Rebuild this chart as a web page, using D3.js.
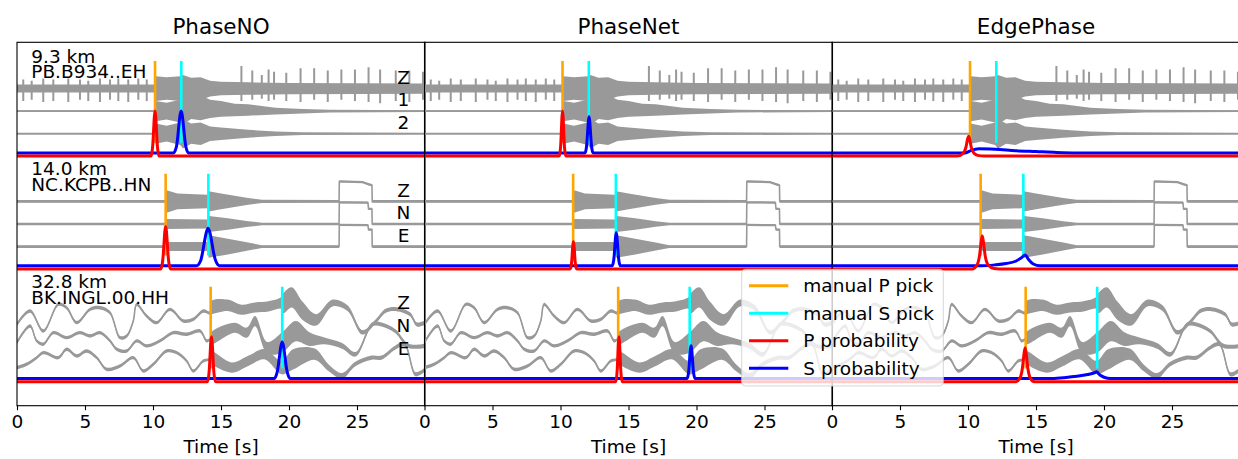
<!DOCTYPE html>
<html lang="en">
<head>
<meta charset="UTF-8" />
<script src="https://d3js.org/d3.v7.min.js"></script>
<title>Picks</title>
<style>
  body { margin: 0; background: #fff; }
  svg { font-family: "DejaVu Sans", sans-serif; }
</style>
</head>
<body>
<svg id="chart" width="1238" height="459"></svg>
<script>
const models = ["PhaseNO", "PhaseNet", "EdgePhase"];
const stationNames = ["PB.B934..EH", "NC.KCPB..HN", "BK.INGL.00.HH"];
const distances = ["9.3 km", "14.0 km", "32.8 km"];
const channelNames = [["Z", "1", "2"], ["Z", "N", "E"], ["Z", "N", "E"]];
const pPicks = [10.15, 10.93, 14.24];
const sPicks = [12.08, 14.07, 19.5];
const timeTicks = [0, 5, 10, 15, 20, 25];
const legendLabels = ["manual P pick", "manual S pick", "P probability", "S probability"];

// waveforms: [time s, centre, half width of the trace]
const b934Z = [[0,0,0.35],[10.1,0,0.35],[10.2,0,1.1],[11.0,0,1.0],[12.0,0,1.1],[12.2,0,1.2],[12.8,0,0.95],[13.5,0,1.0],[14.2,0,0.7],[15,0,0.6],[17,0,0.55],[20,0,0.5],[30,0,0.45]];
const b934H1 = [[0,0,0.08],[10.1,0,0.08],[10.2,0,0.9],[11.0,0,0.75],[12.0,0,1.0],[12.2,0.2,1.4],[12.8,0.3,1.0],[13.5,0.3,1.1],[14.2,0.2,0.8],[15,0.2,0.7],[16,0.1,0.55],[17,0.1,0.5],[19,0,0.3],[21,0,0.2],[23,0,0.12],[30,0,0.08]];
const b934H2 = [[0,0,0.08],[10.1,0,0.08],[10.2,0,0.9],[11.0,0,0.7],[12.0,0,1.0],[12.2,0,1.3],[12.8,0,0.9],[13.5,0,1.0],[14.2,0,0.65],[15,0,0.55],[17,0,0.35],[19,0,0.2],[21,0,0.12],[30,0,0.08]];
// spikes on B934 Z: [time, up, down]
const b934Spikes = [[0.46,0.8,1.1],[1.08,0.7,1.0],[1.93,0.9,1.2],[2.67,0.8,1.1],[3.77,0.9,1.2],[4.63,0.8,1.0],[5.24,0.7,1.1],[6.1,0.9,1.2],[6.84,0.8,1.0],[7.45,0.9,1.1],[8.18,0.8,1.2],[8.92,0.9,1.0],[9.54,0.8,1.1],
  [16.5,2.0,1.1],[17.3,1.6,1.0],[18.0,1.2,0.9],[18.5,1.7,1.1],[18.9,1.5,1.0],[19.8,1.4,1.1],[20.85,1.8,1.2],[21.85,1.8,1.0],[22.85,1.6,1.2],[23.85,1.7,1.0],[24.85,1.7,1.1],[25.85,1.9,1.2],[26.7,1.7,1.3],[27.85,1.6,1.1],[28.85,1.6,1.2],[29.85,1.5,1.0]];

const kcpbZ = [[0,0,0.12],[10.9,0,0.12],[11.0,0,1.0],[11.8,0,0.7],[14.0,0,0.6],[14.1,0,0.9],[15.0,0,0.7],[16,0,0.5],[17,0,0.3],[18,0,0.15],[23.68,0,0.12],[23.7,1.77,0.1],[25.4,1.72,0.1],[25.9,1.5,0.1],[26.1,1.45,0.1],[26.12,0,0.12],[30,0,0.12]];
const kcpbN = [[0,0,0.12],[10.9,0,0.12],[11.0,0,0.45],[14.0,0,0.4],[14.1,0,0.7],[15.5,0,0.5],[17,0,0.25],[18,0,0.12],[23.68,0,0.12],[23.7,1.92,0.1],[25.8,1.9,0.1],[25.85,1.33,0.1],[26.1,1.33,0.1],[26.12,0,0.12],[30,0,0.12]];
const kcpbE = [[0,0,0.12],[10.9,0,0.12],[11.0,0,0.4],[14.0,0,0.4],[14.1,0,1.0],[15.5,0,0.7],[17,0,0.35],[18,0,0.12],[23.68,0,0.12],[23.7,1.92,0.1],[25.8,1.9,0.1],[25.85,1.5,0.1],[26.1,1.5,0.1],[26.12,0,0.12],[30,0,0.12]];

const inglZ = [[0,-0.88,0.15],[0.96,0.29,0.15],[1.94,-1.48,0.15],[3.04,0.88,0.15],[3.65,0.58,0.15],[4.39,-0.74,0.15],[5.37,0.44,0.15],[6.1,0.58,0.15],[6.84,0.14,0.15],[7.57,-2.07,0.15],[8.07,-1.92,0.15],[8.55,-0.59,0.15],[8.8,0.88,0.15],[9.53,-0.15,0.15],[10.27,-0.74,0.15],[11.25,0.44,0.15],[12.23,-0.59,0.15],[12.97,-0.44,0.15],[13.7,0.29,0.15],[14.2,0.1,0.15],
  [14.3,0.6,0.6],[15.5,0.8,0.5],[16.5,0.4,0.45],[17.5,0.6,0.45],[18.5,0.7,0.45],[19.4,1.0,0.5],[19.6,1.0,0.9],[20.2,1.5,0.9],[21,0.3,0.8],[22,-0.5,0.5],[23.2,1.0,0.3],[24.3,0.55,0.25],[25.4,-1.6,0.2],[26.4,-0.6,0.18],[27.1,0.3,0.18],[27.9,0.45,0.18],[28.9,0,0.18],[29.4,-0.9,0.18],[30,-0.74,0.18]];
const inglN = [[0,-0.5,0.15],[0.96,0.96,0.15],[1.45,-0.36,0.15],[1.94,-0.65,0.15],[2.67,0.37,0.15],[3.65,-0.07,0.15],[4.63,0.37,0.15],[5.37,0.08,0.15],[6.1,0.37,0.15],[6.84,-0.36,0.15],[7.33,-1.1,0.15],[8.07,-1.25,0.15],[8.8,-0.36,0.15],[9.53,-0.8,0.15],[10.51,-0.36,0.15],[11.5,0.37,0.15],[12.47,0.23,0.15],[13.46,0.52,0.15],[13.95,-0.36,0.15],[14.2,-0.2,0.15],
  [14.3,-0.1,0.55],[16.0,0.81,0.45],[16.9,0.37,0.45],[17.5,1.4,0.45],[18.4,-0.96,0.5],[19.5,-0.5,0.9],[20.5,0.5,0.9],[21.5,-0.2,0.6],[22.6,-0.36,0.3],[23.9,-0.8,0.25],[24.9,-1.54,0.2],[26.1,1.1,0.18],[26.8,1.1,0.18],[27.8,0.52,0.18],[28.8,-0.8,0.18],[30,-0.8,0.18]];
const inglE = [[0,-0.72,0.15],[0.71,-0.43,0.15],[1.45,0.16,0.15],[1.94,0.6,0.15],[3.04,0.16,0.15],[3.65,0.9,0.15],[4.39,0.31,0.15],[5.12,0.75,0.15],[5.86,0.16,0.15],[6.59,-0.87,0.15],[7.57,-0.58,0.15],[8.55,0.16,0.15],[9.28,-1.02,0.15],[10.02,-0.43,0.15],[11.0,0.75,0.15],[11.74,0.6,0.15],[12.47,-0.13,0.15],[12.97,-1.02,0.15],[13.7,-0.13,0.15],[14.2,0,0.15],
  [14.3,0.16,0.55],[15.78,-0.72,0.45],[17.0,-0.13,0.45],[18.2,0.46,0.45],[19.46,-0.72,0.6],[20.3,0,0.9],[21.9,0.46,0.5],[22.9,-0.72,0.3],[23.9,-1.46,0.25],[24.85,-0.43,0.2],[26.07,0.16,0.18],[26.8,0.16,0.18],[27.8,1.04,0.18],[28.5,1.35,0.18],[29.3,-1.31,0.18],[30,-0.9,0.18]];

const waveforms = [[b934Z, b934H1, b934H2], [kcpbZ, kcpbN, kcpbE], [inglZ, inglN, inglE]];

// probability curves [time, prob], one list per station
const phasenoP = [
  [[0,0],[9.85,0],[9.95,0.14],[10.0,0.32],[10.05,0.61],[10.1,0.88],[10.15,1.0],[10.2,0.88],[10.25,0.61],[10.3,0.32],[10.35,0.14],[10.45,0],[30,0]],
  [[0,0],[10.57,0],[10.69,0.13],[10.75,0.3],[10.81,0.57],[10.87,0.83],[10.93,0.94],[10.99,0.83],[11.05,0.57],[11.11,0.3],[11.17,0.13],[11.29,0],[30,0]],
  [[0,0],[14.0,0],[14.1,0.14],[14.15,0.32],[14.2,0.61],[14.25,0.88],[14.3,1.0],[14.35,0.88],[14.4,0.61],[14.45,0.32],[14.5,0.14],[14.6,0],[30,0]]];
const phasenoS = [
  [[0,0],[11.5,0],[11.71,0.12],[11.8,0.3],[11.89,0.57],[11.98,0.82],[12.07,0.93],[12.16,0.82],[12.25,0.57],[12.34,0.3],[12.43,0.12],[12.62,0],[30,0]],
  [[0,0],[13.2,0],[13.5,0.11],[13.63,0.27],[13.77,0.51],[13.91,0.73],[14.05,0.83],[14.19,0.73],[14.33,0.51],[14.47,0.27],[14.61,0.11],[14.9,0],[30,0]],
  [[0,0],[18.9,0],[19.1,0.11],[19.2,0.26],[19.3,0.49],[19.4,0.71],[19.5,0.81],[19.6,0.71],[19.7,0.49],[19.8,0.26],[19.9,0.11],[20.1,0],[30,0]]];
const phasenetP = [
  [[0,0],[9.91,0],[9.99,0.14],[10.03,0.32],[10.07,0.61],[10.11,0.88],[10.15,1.0],[10.19,0.88],[10.23,0.61],[10.27,0.32],[10.31,0.14],[10.39,0],[30,0]],
  [[0,0],[10.71,0],[10.79,0.08],[10.83,0.19],[10.87,0.37],[10.91,0.53],[10.95,0.6],[10.99,0.53],[11.03,0.37],[11.07,0.19],[11.11,0.08],[11.19,0],[30,0]],
  [[0,0],[14.06,0],[14.14,0.14],[14.18,0.32],[14.22,0.61],[14.26,0.88],[14.3,1.0],[14.34,0.88],[14.38,0.61],[14.42,0.32],[14.46,0.14],[14.54,0],[30,0]]];
const phasenetS = [
  [[0,0],[11.8,0],[11.9,0.11],[11.95,0.26],[12.0,0.49],[12.05,0.7],[12.1,0.8],[12.15,0.7],[12.2,0.49],[12.25,0.26],[12.3,0.11],[12.4,0],[30,0]],
  [[0,0],[13.8,0],[13.9,0.1],[13.95,0.23],[14.0,0.45],[14.05,0.64],[14.1,0.73],[14.15,0.64],[14.2,0.45],[14.25,0.23],[14.3,0.1],[14.4,0],[30,0]],
  [[0,0],[19.3,0],[19.4,0.1],[19.45,0.23],[19.5,0.45],[19.55,0.64],[19.6,0.73],[19.65,0.64],[19.7,0.45],[19.75,0.23],[19.8,0.1],[19.9,0],[30,0]]];
const edgeP = [
  [[0,0],[9.2,0],[9.6,0.05],[9.85,0.2],[9.97,0.38],[10.05,0.44],[10.13,0.36],[10.25,0.18],[10.45,0.06],[10.8,0.01],[11.2,0],[30,0]],
  [[0,0],[10.3,0],[10.65,0.08],[10.85,0.3],[10.97,0.6],[11.05,0.73],[11.13,0.6],[11.27,0.28],[11.5,0.08],[11.9,0.01],[12.3,0],[30,0]],
  [[0,0],[13.5,0],[13.8,0.07],[14.0,0.3],[14.12,0.62],[14.2,0.75],[14.28,0.62],[14.4,0.3],[14.6,0.07],[14.9,0],[30,0]]];
const edgeS = [
  [[0,0],[9.8,0],[10.2,0.05],[10.8,0.09],[12.0,0.08],[13.5,0.05],[15.0,0.03],[16.5,0.01],[18.0,0],[30,0]],
  [[0,0],[11.0,0],[12.0,0.02],[12.8,0.05],[13.5,0.1],[13.9,0.17],[14.2,0.24],[14.45,0.14],[14.8,0.04],[15.3,0],[30,0]],
  [[0,0],[16.0,0],[17.0,0.02],[18.0,0.05],[18.8,0.09],[19.3,0.13],[19.45,0.15],[19.7,0.08],[20.0,0.03],[20.5,0],[30,0]]];
const probP = [phasenoP, phasenetP, edgeP];
const probS = [phasenoS, phasenetS, edgeS];

const svg = d3.select("#chart");
const panelLeft = [17, 424.5, 832];
const panelW = 408;
const plotTop = 42.3, plotBottom = 405.7;
const gray = "#999999";

// station k sits at k on this scale (downwards)
const y = d3.scaleLinear().domain([-1, 2.22]).range([plotTop, plotBottom]);
const chanY = (k, c, w) => y(k - 0.59 + 0.2 * c - 0.1 * w);
const probY = (k, p, isS) => y(k + (isS ? -0.02 : 0.008) - 0.4 * p);

const defs = svg.append("defs");

models.forEach((model, m) => {
  const x = d3.scaleLinear().domain([0, 30]).range([panelLeft[m], panelLeft[m] + panelW]);

  defs.append("clipPath").attr("id", "clip" + m)
    .append("rect")
    .attr("x", x(0)).attr("y", plotTop)
    .attr("width", panelW).attr("height", plotBottom - plotTop);

  const g = svg.append("g").attr("clip-path", `url(#clip${m})`);

  waveforms.forEach((chans, k) => {
    const curve = k === 2 ? d3.curveCatmullRom : d3.curveLinear;
    chans.forEach((trace, c) => {
      const area = d3.area()
        .x(d => x(d[0]))
        .y0(d => chanY(k, c, d[1] - d[2]))
        .y1(d => chanY(k, c, d[1] + d[2]))
        .curve(curve);
      const line = d3.line()
        .x(d => x(d[0]))
        .y(d => chanY(k, c, d[1]))
        .curve(curve);
      g.append("path").attr("d", area(trace)).attr("fill", gray);
      g.append("path").attr("d", line(trace))
        .attr("fill", "none").attr("stroke", gray).attr("stroke-width", 1.6);
    });
  });

  // spikes on the B934 vertical
  g.selectAll("line.spike")
    .data(b934Spikes)
    .join("line")
    .attr("class", "spike")
    .attr("x1", d => x(d[0])).attr("x2", d => x(d[0]))
    .attr("y1", d => chanY(0, 0, d[1])).attr("y2", d => chanY(0, 0, -d[2]))
    .attr("stroke", gray).attr("stroke-width", 2);

  // manual picks
  [[pPicks, "orange"], [sPicks, "cyan"]].forEach(([picks, col]) => {
    g.selectAll(null)
      .data(picks)
      .join("line")
      .attr("x1", d => x(d)).attr("x2", d => x(d))
      .attr("y1", (d, k) => y(k - 0.835)).attr("y2", (d, k) => y(k - 0.11))
      .attr("stroke", col).attr("stroke-width", 2.6);
  });

  // probabilities: blue under red
  [[probS[m], "blue", true], [probP[m], "red", false]].forEach(([curves, col, isS]) => {
    curves.forEach((pts, k) => {
      const line = d3.line()
        .x(d => x(d[0]))
        .y(d => probY(k, d[1], isS))
        .curve(d3.curveMonotoneX);
      g.append("path").attr("d", line(pts))
        .attr("fill", "none").attr("stroke", col).attr("stroke-width", 3);
    });
  });

  // frame
  svg.append("rect")
    .attr("x", x(0)).attr("y", plotTop)
    .attr("width", panelW).attr("height", plotBottom - plotTop)
    .attr("fill", "none").attr("stroke", "#000").attr("stroke-width", 1.1);

  const axis = d3.axisBottom(x).tickValues(timeTicks).tickSize(4.5).tickPadding(5).tickFormat(d3.format("d"));
  const ax = svg.append("g").attr("transform", `translate(0,${plotBottom})`).call(axis);
  ax.select(".domain").remove();
  ax.selectAll("text").attr("font-size", "18.5px").attr("font-family", "DejaVu Sans").attr("fill", "#000");
  ax.selectAll("line").attr("stroke", "#000").attr("stroke-width", 1.1);

  svg.append("text")
    .attr("x", x(15)).attr("y", 453.3)
    .attr("text-anchor", "middle").attr("font-size", "18.5px")
    .text("Time [s]");

  svg.append("text")
    .attr("x", x(15)).attr("y", 34)
    .attr("text-anchor", "middle").attr("font-size", "21.5px")
    .text(model);

  if (m === 0) {
    distances.forEach((dist, k) => {
      // one two-line label per station
      const lab = svg.append("text").attr("font-size", "18.5px");
      lab.append("tspan").attr("x", x(1.05)).attr("y", y(k - 0.82)).text(dist);
      lab.append("tspan").attr("x", x(1.05)).attr("y", y(k - 0.685)).text(stationNames[k]);
      channelNames[k].forEach((ch, c) => {
        svg.append("text").attr("x", x(28.42)).attr("y", y(k - 0.633 + 0.2 * c))
          .attr("text-anchor", "middle").attr("font-size", "18.5px").text(ch);
      });
    });
  }
});

// legend on top of everything
const legend = svg.append("g");
legend.append("rect")
  .attr("x", 741.7).attr("y", 269.3).attr("width", 201.6).attr("height", 116.7)
  .attr("rx", 4).attr("fill", "#fff").attr("fill-opacity", 0.8)
  .attr("stroke", "#cccccc").attr("stroke-opacity", 0.8);
const legendColors = ["orange", "cyan", "red", "blue"];
legendLabels.forEach((lab, i) => {
  const ly = 285.7 + i * 27.55;
  legend.append("line").attr("x1", 749).attr("x2", 788.3).attr("y1", ly).attr("y2", ly)
    .attr("stroke", legendColors[i]).attr("stroke-width", 3);
  legend.append("text").attr("x", 803.3).attr("y", ly).attr("dy", "0.35em")
    .attr("font-size", "18.5px").text(lab);
});
</script>
</body>
</html>
